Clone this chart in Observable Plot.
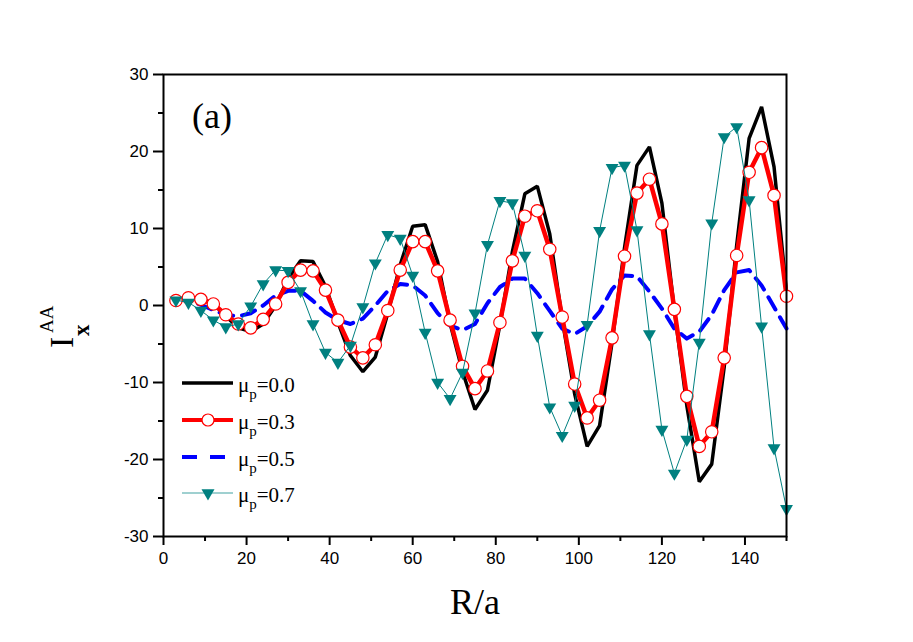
<!DOCTYPE html>
<html><head><meta charset="utf-8">
<script src="https://cdn.jsdelivr.net/npm/d3@7"></script>
<script src="https://cdn.jsdelivr.net/npm/@observablehq/plot@0.6"></script>
<style>body{margin:0;background:#fff;} svg{display:block}</style>
</head><body><div id="chart"></div>
<script>
// R/a sample positions
const R = [3,6,9,12,15,18,21,24,27,30,33,36,39,42,45,48,51,54,57,60,63,66,69,72,75,78,81,84,87,90,93,96,99,102,105,108,111,114,117,120,123,126,129,132,135,138,141,144,147,150];
// mu_p = 0.0
const mu00 = [0.8,1.0,0.9,0.3,-1.4,-2.9,-3.4,-2.4,0.0,3.5,5.8,5.7,2.5,-2.2,-6.5,-8.6,-6.7,-1.0,5.3,10.3,10.5,5.7,-2.3,-8.6,-13.5,-11.0,-2.5,7.0,14.5,15.5,9.3,-1.8,-11.5,-18.3,-15.6,-4.8,7.5,18.2,20.6,13.3,-0.6,-13.0,-22.9,-20.6,-8.0,7.8,21.7,25.8,18.0,1.8];
// mu_p = 0.3
const mu03 = [0.65,1.0,0.8,0.2,-1.2,-2.4,-2.9,-1.8,0.2,3.0,4.6,4.5,2.0,-1.9,-5.4,-6.8,-5.1,-0.65,4.6,8.3,8.3,4.5,-1.9,-7.9,-10.8,-8.5,-2.2,5.8,11.6,12.3,7.3,-1.5,-10.2,-14.6,-12.3,-4.2,6.4,14.6,16.4,10.6,-0.5,-11.8,-18.3,-16.4,-6.8,6.5,17.3,20.5,14.3,1.2];
// mu_p = 0.5
const mu05 = [0.9,0.6,0.1,-0.6,-1.2,-1.4,-1.0,0.0,1.3,1.9,1.9,0.6,-0.9,-1.9,-2.4,-1.7,0.0,1.9,2.8,2.6,1.3,-1.0,-2.6,-3.2,-2.4,0.3,2.4,3.5,3.5,1.6,-0.7,-3.0,-3.7,-2.7,-0.8,2.1,3.9,3.8,1.8,-0.4,-3.0,-4.3,-3.4,-1.2,2.0,4.3,4.6,2.6,-0.2,-3.0];
// mu_p = 0.7
const mu07 = [0.7,0.4,-0.65,-1.9,-2.8,-2.4,-0.1,2.8,4.6,4.5,1.9,-2.4,-6.1,-7.4,-5.2,-0.2,5.5,9.2,8.7,3.9,-3.5,-10.0,-12.1,-8.7,-1.0,7.9,13.6,13.3,6.5,-3.9,-13.2,-16.9,-13.0,-2.5,9.7,17.9,18.2,9.8,-3.7,-16.1,-21.8,-17.4,-4.8,10.7,21.9,23.2,13.7,-2.7,-18.5,-26.4];

const legendValues = ["0.0","0.3","0.5","0.7"];
const xTicks = [0,20,40,60,80,100,120,140];
const xMinor = [10,30,50,70,90,110,130,150];
const yTicks = [-30,-20,-10,0,10,20,30];
const yMinor = [-25,-15,-5,5,15,25];

const rows = ys => R.map((r,i) => ({r, v: ys[i]}));
const serif = "'Liberation Serif','Times New Roman',serif";
const sans = "'Liberation Sans',Arial,sans-serif";

const plot = Plot.plot({
  width: 913, height: 642,
  marginLeft: 163, marginRight: 127, marginTop: 74, marginBottom: 106,
  x: {domain: [0,150]},
  y: {domain: [-30,30]},
  style: {fontFamily: sans, fontSize: "17px", color: "#000", background: "#fff"},
  marks: [
    Plot.axisX({ticks: xMinor, tickSize: 5, tickFormat: () => "", strokeWidth: 2, label: null}),
    Plot.axisX({ticks: xTicks, tickSize: 9, tickPadding: 6, strokeWidth: 2, tickFormat: d => String(d), label: null}),
    Plot.axisY({ticks: yMinor, tickSize: 5, tickFormat: () => "", strokeWidth: 2, label: null}),
    Plot.axisY({ticks: yTicks, tickSize: 10, tickPadding: 5, strokeWidth: 2, tickFormat: d => String(d), label: null}),
    Plot.line(rows(mu00), {x: "r", y: "v", stroke: "#000", strokeWidth: 3.5, strokeLinejoin: "miter"}),
    Plot.line(rows(mu05), {x: "r", y: "v", stroke: "#0000ff", strokeWidth: 4, strokeDasharray: "14,9"}),
    Plot.line(rows(mu03), {x: "r", y: "v", stroke: "#ff0000", strokeWidth: 4.5, strokeLinejoin: "miter"}),
    Plot.dot(rows(mu03), {x: "r", y: "v", r: 6.2, fill: "#fff", stroke: "#ff0000", strokeWidth: 1.2}),
    Plot.line(rows(mu07), {x: "r", y: "v", stroke: "#008080", strokeWidth: 1}),
    Plot.dot(rows(mu07), {x: "r", y: "v", symbol: "triangle", rotate: 180, r: 4.8, fill: "#008080", stroke: "none"}),
    Plot.frame({strokeWidth: 2})
  ]
});
document.getElementById("chart").appendChild(plot);

const svg = d3.select(plot);
// enlarge tick labels (only axis texts exist at this point)
svg.selectAll("text").style("font-size", "17px").style("font-family", sans);
svg.selectAll("g").filter(function(){ return this.getAttribute("font-size"); }).attr("font-size", "17px");

const addText = (sel) => sel.attr("text-anchor", "start").attr("font-family", serif).attr("fill", "#000");
// panel label
addText(svg.append("text")).attr("x", 192).attr("y", 128).attr("font-size", "36px").text("(a)");
// x label
addText(svg.append("text")).attr("x", 475).attr("y", 614).attr("text-anchor", "middle").attr("font-size", "36px").text("R/a");
// y label I_x^AA (rotated)
addText(svg.append("text")).attr("transform", "translate(73,348) rotate(-90)").attr("font-size", "34px").text("I");
addText(svg.append("text")).attr("transform", "translate(53,333) rotate(-90)").attr("font-size", "19px").text("AA");
addText(svg.append("text")).attr("transform", "translate(89,336) rotate(-90)").attr("font-size", "23px").attr("font-weight", "bold").text("x");

// legend
const rowY = [383, 420, 457, 493];
const lg = svg.append("g");
legendValues.forEach((v, i) => {
  const y = rowY[i];
  if (i === 0) lg.append("line").attr("x1",182).attr("x2",233).attr("y1",y).attr("y2",y).attr("stroke","#000").attr("stroke-width",3.5);
  if (i === 1) {
    lg.append("line").attr("x1",182).attr("x2",233).attr("y1",y).attr("y2",y).attr("stroke","#ff0000").attr("stroke-width",4);
    lg.append("circle").attr("cx",208).attr("cy",y).attr("r",6).attr("fill","#fff").attr("stroke","#ff0000").attr("stroke-width",1.2);
  }
  if (i === 2) lg.append("line").attr("x1",182).attr("x2",233).attr("y1",y).attr("y2",y).attr("stroke","#0000ff").attr("stroke-width",4).attr("stroke-dasharray","15,13");
  if (i === 3) {
    lg.append("line").attr("x1",182).attr("x2",233).attr("y1",y).attr("y2",y).attr("stroke","#7fc0c0").attr("stroke-width",1.5);
    lg.append("path").attr("d", d3.symbol(d3.symbolTriangle, 73)()).attr("transform", `translate(208,${y}) rotate(180)`).attr("fill","#008080");
  }
  const t = addText(lg.append("text")).attr("x", 238).attr("y", y + 9).attr("font-size", "21px");
  t.append("tspan").text("μ");
  t.append("tspan").attr("font-size", "15px").attr("dy", 7).text("p");
  t.append("tspan").attr("dy", -7).text("=" + v);
});
</script>
</body></html>
